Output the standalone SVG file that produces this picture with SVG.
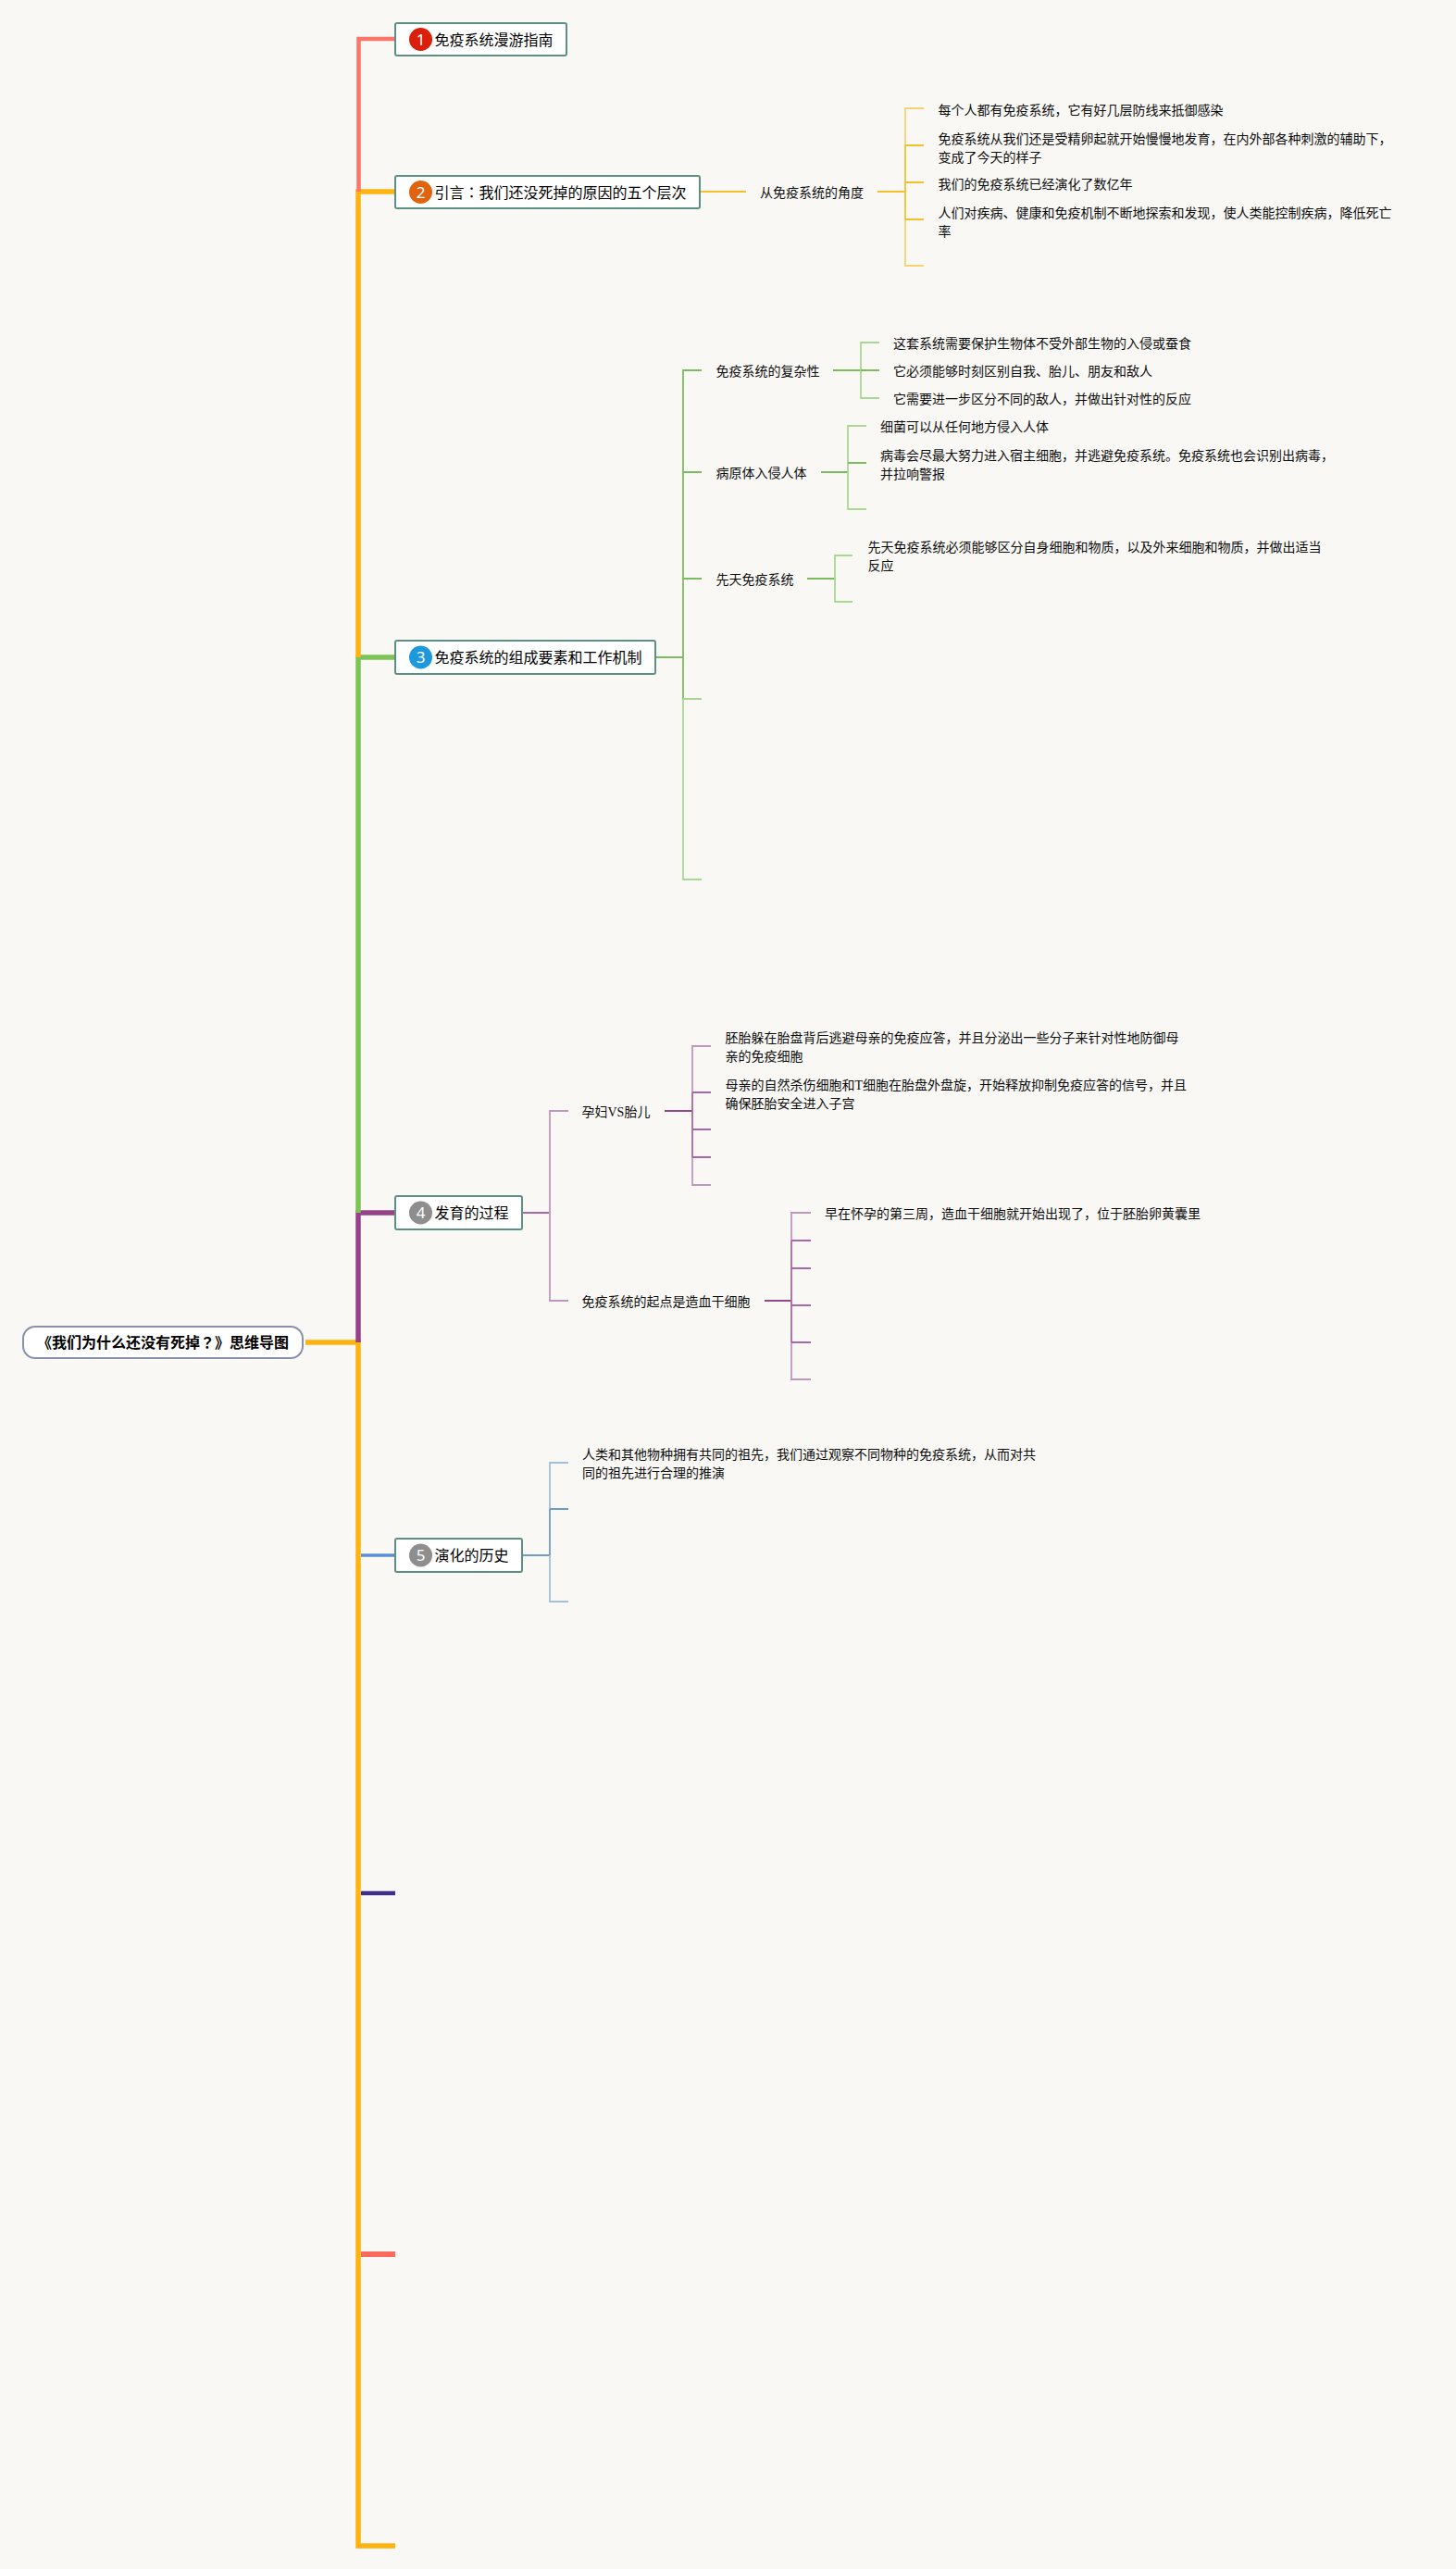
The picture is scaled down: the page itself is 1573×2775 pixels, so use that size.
<svg xmlns="http://www.w3.org/2000/svg" width="1573" height="2775" viewBox="0 0 1573 2775">
<style>
text{font-family:"Liberation Serif","Noto Sans CJK SC",sans-serif;font-size:14px;fill:#0c0c0c}
.tt{font-family:"Noto Sans CJK SC",sans-serif;font-size:16px;fill:#000}
.rt{font-family:"Noto Sans CJK SC",sans-serif;font-size:16px;font-weight:700;fill:#000}
.jp{font-family:"Noto Sans CJK JP",sans-serif}
.num{font-family:"Noto Sans",sans-serif;font-size:17px;fill:#fff;text-anchor:middle}
.box{fill:#fff;stroke:#5b9184;stroke-width:2}
.root{fill:#fff;stroke:#8a90aa;stroke-width:2}
path{fill:none}
.s{stroke-width:5.5}
.l{stroke-width:2}.t{stroke-width:1.8}
.y{stroke:#f5c02e}.yl{stroke:#f7d272}
.g{stroke:#79bd5f}.gl{stroke:#a8d892}
.p{stroke:#96468c}.pl{stroke:#c296bc}.pm{stroke:#a9689f}
.b{stroke:#6c9bd0}.bl{stroke:#a0bfe2}
</style>
<rect width="1573" height="2775" fill="#f9f8f5"/>
<g id="connectors">
<path d="M330 1450H387V2750H427" stroke="#ffb310" class="s"/>
<path d="M387 1450V1310H427" stroke="#96418a" class="s"/>
<path d="M387 1310V710H427" stroke="#7cc456" class="s"/>
<path d="M387 710V207H427" stroke="#ffb310" class="s"/>
<path d="M427 42H387.5V207" stroke="#fb7568" stroke-width="4.5"/>
<path d="M390 1680H427" stroke="#5b90d8" stroke-width="3.5"/>
<path d="M390 2045H427" stroke="#3f2e8a" stroke-width="4.5"/>
<path d="M390 2435H427" stroke="#fb6a5e" stroke-width="6"/>

<path class="l y" d="M756 207H806M948 207H978"/>
<path class="t yl" d="M998 117H978V157M978 237V287H998"/>
<path class="t y" d="M978 157H998M978 157V237M978 197H998M978 237H998"/>

<path class="l g" d="M708 710H738"/>
<path class="t g" d="M758 400H738V755M738 510H758M738 625H758"/>
<path class="t gl" d="M738 755H758M738 755V950H758"/>
<path class="l g" d="M900 400H930M887 510H916M872 625H902"/>
<path class="t gl" d="M950 370H930V430H950M936 460H916V550H936M921 600H902V650H921"/>
<path class="t g" d="M930 400H950M916 500H936"/>

<path class="l pm" d="M564 1310H594"/>
<path class="t pl" d="M614 1200H594V1405H614"/>
<path class="l p" d="M718 1200H748M826 1405H855"/>
<path class="t pl" d="M768 1130H748V1180M748 1250V1280H768M876 1310H855V1340M855 1450V1490H876"/>
<path class="t pm" d="M748 1180V1250M748 1180H768M748 1220H768M748 1250H768M855 1340V1450M855 1340H876M855 1370H876M855 1410H876M855 1450H876"/>

<path class="l b" d="M564 1680H594"/>
<path class="t bl" d="M614 1580H594V1630M594 1680V1730H614"/>
<path class="t b" d="M594 1630V1680M594 1630H614"/>
</g>

<g id="root"><rect class="root" x="25" y="1433" width="302" height="34" rx="13"/><text class="rt" x="40" y="1456">《我们为什么还没有死掉<tspan class="jp">？</tspan>》思维导图</text></g>

<g id="node-1"><rect class="box" x="427" y="25" width="185" height="35" rx="2"/><circle cx="454.5" cy="42.5" r="12.5" fill="#db1f0a"/><text class="num" x="454.5" y="48.5">1</text><text class="tt" x="469.5" y="48.5">免疫系统漫游指南</text></g>
<g id="node-2"><rect class="box" x="427" y="190" width="329" height="35" rx="2"/><circle cx="454.5" cy="207.5" r="12.5" fill="#e0640f"/><text class="num" x="454.5" y="213.5">2</text><text class="tt" x="469.5" y="213.5">引言<tspan class="jp">：</tspan>我们还没死掉的原因的五个层次</text></g>
<g id="node-3"><rect class="box" x="427" y="692" width="281" height="36" rx="2"/><circle cx="454.5" cy="710" r="12.5" fill="#1e98dc"/><text class="num" x="454.5" y="716">3</text><text class="tt" x="469.5" y="716">免疫系统的组成要素和工作机制</text></g>
<g id="node-4"><rect class="box" x="427" y="1292" width="137" height="36" rx="2"/><circle cx="454.5" cy="1310" r="12.5" fill="#8e8e8e"/><text class="num" x="454.5" y="1316">4</text><text class="tt" x="469.5" y="1316">发育的过程</text></g>
<g id="node-5"><rect class="box" x="427" y="1662" width="137" height="36" rx="2"/><circle cx="454.5" cy="1680" r="12.5" fill="#8e8e8e"/><text class="num" x="454.5" y="1686">5</text><text class="tt" x="469.5" y="1686">演化的历史</text></g>

<g id="topic-2-1"><text x="821" y="213">从免疫系统的角度</text></g>
<g id="leaf-2-1"><text x="1013.5" y="124">每个人都有免疫系统，它有好几层防线来抵御感染</text></g>
<g id="leaf-2-2"><text x="1013.5" y="155">免疫系统从我们还是受精卵起就开始慢慢地发育，在内外部各种刺激的辅助下，</text><text x="1013.5" y="175">变成了今天的样子</text></g>
<g id="leaf-2-3"><text x="1013.5" y="204">我们的免疫系统已经演化了数亿年</text></g>
<g id="leaf-2-4"><text x="1013.5" y="235">人们对疾病、健康和免疫机制不断地探索和发现，使人类能控制疾病，降低死亡</text><text x="1013.5" y="255">率</text></g>

<g id="topic-3-1"><text x="773.5" y="406">免疫系统的复杂性</text></g>
<g id="leaf-3-1-1"><text x="965" y="376">这套系统需要保护生物体不受外部生物的入侵或蚕食</text></g>
<g id="leaf-3-1-2"><text x="965" y="406">它必须能够时刻区别自我、胎儿、朋友和敌人</text></g>
<g id="leaf-3-1-3"><text x="965" y="436">它需要进一步区分不同的敌人，并做出针对性的反应</text></g>
<g id="topic-3-2"><text x="773.5" y="516">病原体入侵人体</text></g>
<g id="leaf-3-2-1"><text x="951" y="466">细菌可以从任何地方侵入人体</text></g>
<g id="leaf-3-2-2"><text x="951" y="497">病毒会尽最大努力进入宿主细胞，并逃避免疫系统。免疫系统也会识别出病毒，</text><text x="951" y="517">并拉响警报</text></g>
<g id="topic-3-3"><text x="773.5" y="631">先天免疫系统</text></g>
<g id="leaf-3-3-1"><text x="937.5" y="596">先天免疫系统必须能够区分自身细胞和物质，以及外来细胞和物质，并做出适当</text><text x="937.5" y="616">反应</text></g>

<g id="topic-4-1"><text x="628.5" y="1206">孕妇VS胎儿</text></g>
<g id="leaf-4-1-1"><text x="783.5" y="1126">胚胎躲在胎盘背后逃避母亲的免疫应答，并且分泌出一些分子来针对性地防御母</text><text x="783.5" y="1146">亲的免疫细胞</text></g>
<g id="leaf-4-1-2"><text x="783.5" y="1177">母亲的自然杀伤细胞和T细胞在胎盘外盘旋，开始释放抑制免疫应答的信号，并且</text><text x="783.5" y="1197">确保胚胎安全进入子宫</text></g>
<g id="topic-4-2"><text x="628.5" y="1411">免疫系统的起点是造血干细胞</text></g>
<g id="leaf-4-2-1"><text x="891" y="1316">早在怀孕的第三周，造血干细胞就开始出现了，位于胚胎卵黄囊里</text></g>

<g id="leaf-5-1"><text x="629" y="1576">人类和其他物种拥有共同的祖先，我们通过观察不同物种的免疫系统，从而对共</text><text x="629" y="1596">同的祖先进行合理的推演</text></g>
</svg>
